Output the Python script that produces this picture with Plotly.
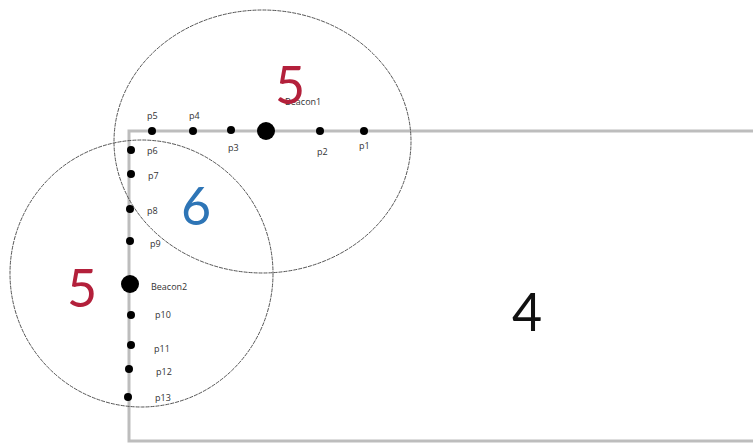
import plotly.graph_objects as go

# ---- data (drawing units match the picture's pixel grid) ----
point_names = ["p1", "p2", "p3", "Beacon1", "p4", "p5",
               "p6", "p7", "p8", "p9", "Beacon2", "p10", "p11", "p12", "p13"]
point_x = [364, 320, 231, 266, 193, 152,
           131, 131, 130, 130, 130, 131, 131, 129, 128]
point_y = [131, 131, 130, 131, 131, 131,
           150, 174, 209, 241, 284, 315, 345, 369, 397]
is_beacon = [n.startswith("Beacon") for n in point_names]

# coverage circles: [x0, y0, x1, y1]
circle_names = ["Beacon1", "Beacon2"]
circle_x0 = [114, 10]
circle_x1 = [411, 273]
circle_y0 = [10, 140]
circle_y1 = [273, 407]

# region counts and their anchor positions
region_labels = ["5", "6", "5", "4"]
region_x = [290, 196, 82, 527]
region_y = [84, 205, 287, 311]
region_colors = ["#B3203B", "#2E75B6", "#B3203B", "#111111"]

# room outline
room_x = [760, 129, 129, 760]
room_y = [131, 131, 441, 441]

# ---- label placement (style, in screen pixels relative to each point) ----
label_style = {
    "p1": (0, -14, "center"), "p2": (2, -20, "center"), "p3": (2, -17, "center"),
    "p4": (1, 16, "center"), "p5": (0, 16, "center"),
    "Beacon1": (17, 30, "left"),
    "p6": (14, 0, "left"), "p7": (15, -1, "left"), "p8": (15, -1, "left"),
    "p9": (18, -2, "left"), "Beacon2": (19, -2, "left"),
    "p10": (22, 1, "left"), "p11": (21, -3, "left"), "p12": (25, -2, "left"),
    "p13": (25, 0, "left"),
}

fig = go.Figure()

fig.add_trace(go.Scatter(x=room_x, y=room_y, mode="lines",
                         line=dict(color="#bdbdbd", width=3),
                         hoverinfo="skip", showlegend=False))

for x0, x1, y0, y1 in zip(circle_x0, circle_x1, circle_y0, circle_y1):
    fig.add_shape(type="circle", xref="x", yref="y",
                  x0=x0, x1=x1, y0=y0, y1=y1,
                  line=dict(color="#555555", width=1, dash="4px,1px"))

fig.add_trace(go.Scatter(
    x=point_x, y=point_y, mode="markers",
    marker=dict(color="#000000", opacity=1,
                size=[18 if b else 8 for b in is_beacon],
                line=dict(width=0)),
    hoverinfo="skip", showlegend=False))

for n, x, y in zip(point_names, point_x, point_y):
    dx, dy, anchor = label_style[n]
    fig.add_annotation(x=x, y=y, text=n, showarrow=False,
                       xshift=dx, yshift=dy, xanchor=anchor, yanchor="middle",
                       font=dict(family="Open Sans", size=9, color="#333333"))

for t, x, y, c in zip(region_labels, region_x, region_y, region_colors):
    fig.add_annotation(x=x, y=y, text=t, showarrow=False,
                       font=dict(family="Lato", size=52, color=c),
                       xanchor="center", yanchor="middle")

fig.update_xaxes(range=[0, 753], visible=False, fixedrange=True)
fig.update_yaxes(range=[445, 0], visible=False, fixedrange=True)
fig.update_layout(width=753, height=445, margin=dict(l=0, r=0, t=0, b=0),
                  plot_bgcolor="white", paper_bgcolor="white")

fig.write_html("out.html", config={"displayModeBar": False},
               post_script="document.body.style.margin='0';")
